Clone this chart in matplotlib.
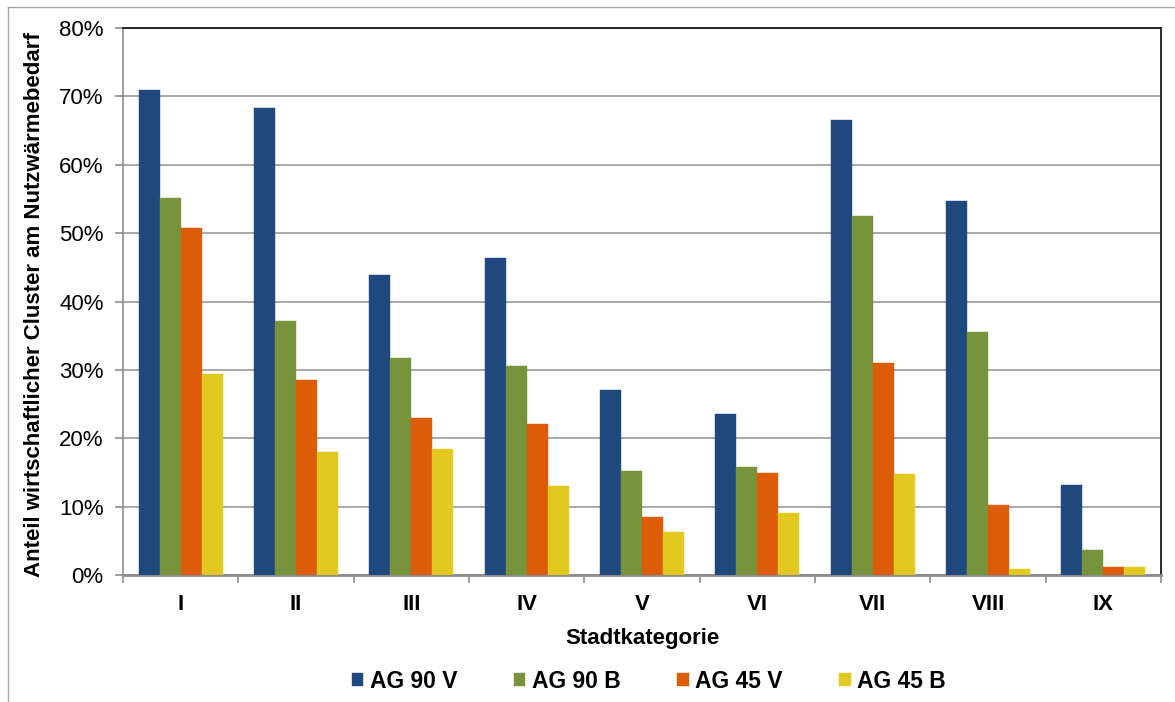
import matplotlib
matplotlib.use("Agg")
import matplotlib.pyplot as plt
import numpy as np
from matplotlib.ticker import FuncFormatter, FixedLocator
from matplotlib.lines import Line2D

plt.rcParams['font.family'] = ['Liberation Sans', 'DejaVu Sans']

categories = ["I", "II", "III", "IV", "V", "VI", "VII", "VIII", "IX"]
series_names = ["AG 90 V", "AG 90 B", "AG 45 V", "AG 45 B"]
ag90v = [70.9, 68.3, 43.9, 46.3, 27.1, 23.5, 66.5, 54.7, 13.1]
ag90b = [55.1, 37.1, 31.8, 30.6, 15.2, 15.8, 52.5, 35.6, 3.6]
ag45v = [50.8, 28.5, 23.0, 22.1, 8.5, 14.9, 31.0, 10.3, 1.2]
ag45b = [29.4, 18.0, 18.4, 13.0, 6.3, 9.1, 14.7, 0.9, 1.2]
colors = ["#1F497D", "#77933C", "#DD5C08", "#E2C920"]

fig = plt.figure(figsize=(11.75, 7.02), dpi=100)
ax = fig.add_axes([123/1175, 1-575/702, (1161-123)/1175, (575-28)/702])

x = np.arange(len(categories))
w = 0.182
data = [ag90v, ag90b, ag45v, ag45b]
for i, (vals, c, name) in enumerate(zip(data, colors, series_names)):
    ax.bar(x + (i - 1.5) * w, vals, width=w, color=c, label=name, zorder=3,
           edgecolor=c, linewidth=0.3)

ax.set_xlim(-0.5, len(categories) - 0.5)
ax.set_ylim(0, 80)
ax.set_yticks(np.arange(0, 81, 10))
ax.yaxis.set_major_formatter(FuncFormatter(lambda v, p: f"{int(v)}%"))
ax.yaxis.grid(True, color="#9a9a9a", linewidth=1.2, zorder=0)
ax.set_axisbelow(True)

ax.set_xticks(x)
ax.set_xticklabels(categories, fontsize=16, fontweight="bold")
ax.xaxis.set_minor_locator(FixedLocator(np.arange(-0.5, len(categories), 1.0)))
ax.tick_params(axis="x", which="major", length=0, pad=14)
ax.tick_params(axis="x", which="minor", length=6, width=1.2, color="#8c8c8c", direction="out")
ax.tick_params(axis="y", labelsize=16, length=6, width=1.2, color="#8c8c8c", pad=8)

for s in ["left", "bottom"]:
    ax.spines[s].set_color("#8c8c8c")
ax.spines["left"].set_linewidth(1.2)
ax.spines["bottom"].set_linewidth(2.0)
for s in ["top", "right"]:
    ax.spines[s].set_color("#1a1a1a")
    ax.spines[s].set_linewidth(1.3)

ax.set_xlabel("Stadtkategorie", fontsize=16, fontweight="bold", labelpad=9)
fig.text(35/1175, 1-305/702, "Anteil wirtschaftlicher Cluster am Nutzwärmebedarf",
         rotation=90, ha="center", va="center", fontsize=16, fontweight="bold")

leg = fig.legend(loc="center", bbox_to_anchor=(649/1175, 1-681/702), ncol=4,
                 frameon=False, handlelength=0.5, handleheight=0.5,
                 handletextpad=0.3, columnspacing=2.45,
                 prop={"weight": "bold", "size": 16.5})

# outer border
fig.add_artist(Line2D([8/1175, 1.0], [1-7/702, 1-7/702], color="#a6a6a6", linewidth=1.0,
                      transform=fig.transFigure))
fig.add_artist(Line2D([8/1175, 8/1175], [0.0, 1-7/702], color="#a6a6a6", linewidth=1.0,
                      transform=fig.transFigure))

fig.savefig("out.png", dpi=100, facecolor="white")
